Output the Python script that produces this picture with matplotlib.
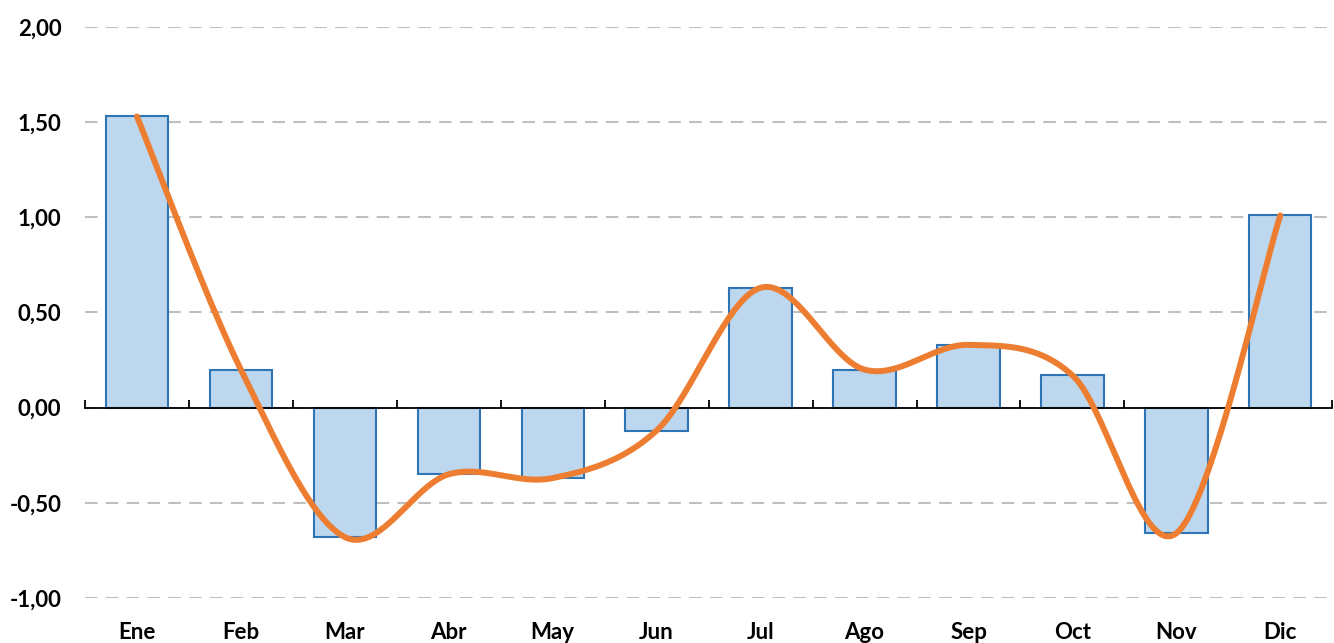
import numpy as np
import matplotlib
matplotlib.use("Agg")
import matplotlib.pyplot as plt
from matplotlib.ticker import FixedLocator, FuncFormatter

# Datos
meses = ["Ene", "Feb", "Mar", "Abr", "May", "Jun", "Jul", "Ago", "Sep", "Oct", "Nov", "Dic"]
valores = [1.53, 0.20, -0.68, -0.35, -0.37, -0.12, 0.63, 0.20, 0.33, 0.17, -0.66, 1.01]
y_ticks = [-1.0, -0.5, 0.0, 0.5, 1.0, 1.5, 2.0]


# Línea suavizada tipo Excel (Catmull-Rom)
def suavizar(x, y, n=40):
    x = np.asarray(x, float)
    y = np.asarray(y, float)
    px = np.concatenate([[x[0]], x, [x[-1]]])
    py = np.concatenate([[y[0]], y, [y[-1]]])
    xs, ys = [], []
    t = np.linspace(0, 1, n)
    for i in range(1, len(px) - 2):
        p0, p1, p2, p3 = (np.array([px[j], py[j]]) for j in range(i - 1, i + 3))
        c1 = p1 + (p2 - p0) / 6
        c2 = p2 - (p3 - p1) / 6
        tt = t[:, None]
        pts = ((1 - tt) ** 3) * p1 + 3 * ((1 - tt) ** 2) * tt * c1 + 3 * (1 - tt) * tt ** 2 * c2 + tt ** 3 * p2
        xs.extend(pts[:, 0])
        ys.extend(pts[:, 1])
    return np.array(xs), np.array(ys)


plt.rcParams['font.family'] = ['Lato', 'DejaVu Sans']

fig = plt.figure(figsize=(13.34, 6.43), dpi=100)
ax = fig.add_axes([0.0637, 0.07, 0.935, 0.888])

x = np.arange(len(meses))
ax.bar(x, valores, width=0.6, color="#BDD7EE", edgecolor="#2E75B6", linewidth=1.5, zorder=2)

sx, sy = suavizar(x, valores)
ax.plot(sx, sy, color="#ED7D31", linewidth=4.3, solid_capstyle="round", zorder=3)

ax.set_xlim(-0.5, len(meses) - 0.5)
ax.set_ylim(-1.0, 2.0)

# Rejilla
ax.set_yticks(y_ticks)
ax.yaxis.set_major_formatter(FuncFormatter(lambda v, p: f"{v:.2f}".replace(".", ",")))
ax.grid(axis="y", color="#BFBFBF", linestyle=(0, (6, 4)), linewidth=1.5, zorder=0)
ax.tick_params(axis="y", length=0, pad=17, labelsize=16)
for lab in ax.get_yticklabels():
    lab.set_fontweight("bold")

# Eje x en cero
for s in ["top", "right", "left"]:
    ax.spines[s].set_visible(False)
ax.spines["bottom"].set_position(("data", 0))
ax.spines["bottom"].set_color("black")
ax.spines["bottom"].set_linewidth(1.3)
ax.set_xticks([])
ax.xaxis.set_minor_locator(FixedLocator(np.arange(-0.5, len(meses), 1.0)))
ax.tick_params(axis="x", which="minor", direction="in", length=6, width=1.3, color="black")

for i, m in enumerate(meses):
    ax.text(i, -0.06, m, transform=ax.get_xaxis_transform(), ha="center", va="center",
            fontsize=16, fontweight="bold", clip_on=False)

fig.savefig("out.png", dpi=100)
